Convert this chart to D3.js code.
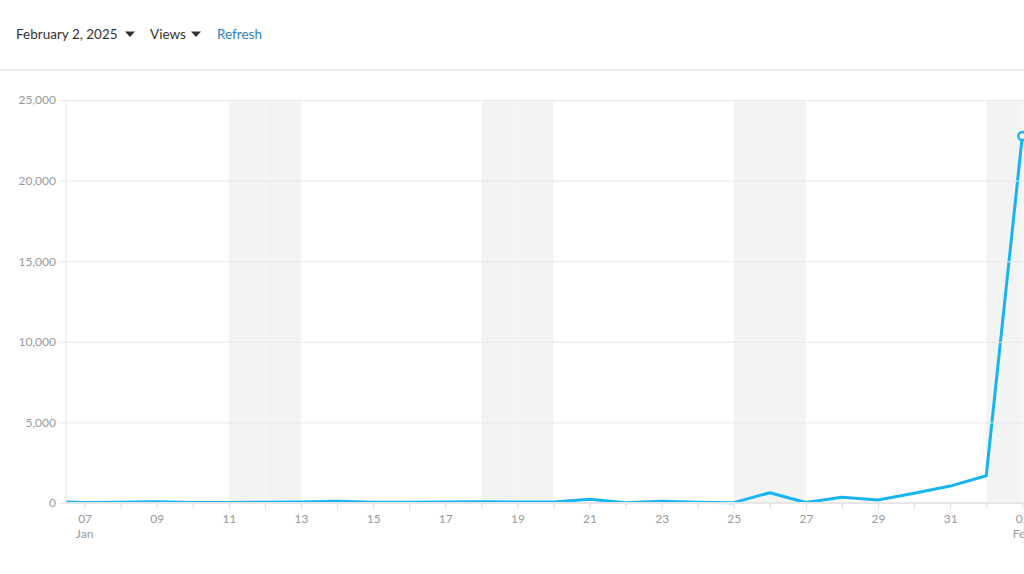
<!DOCTYPE html>
<html><head><meta charset="utf-8">
<script src="https://cdn.jsdelivr.net/npm/d3@7"></script>
<style>
html,body{margin:0;padding:0;background:#fff;overflow:hidden}
svg{display:block;font-family:Lato,"Open Sans",sans-serif}
</style></head><body>
<svg id="c" width="1024" height="574"></svg>
<script>
// Data
const dates = ["2025-01-06","2025-01-07","2025-01-08","2025-01-09","2025-01-10","2025-01-11","2025-01-12","2025-01-13","2025-01-14","2025-01-15","2025-01-16","2025-01-17","2025-01-18","2025-01-19","2025-01-20","2025-01-21","2025-01-22","2025-01-23","2025-01-24","2025-01-25","2025-01-26","2025-01-27","2025-01-28","2025-01-29","2025-01-30","2025-01-31","2025-02-01","2025-02-02"];
const views = [80,30,50,70,30,30,50,60,110,40,50,60,70,60,60,230,20,110,50,20,640,30,350,180,600,1050,1690,22760];
const yTicks = [0,5000,10000,15000,20000,25000];
const xTickLabels = ["2025-01-07","2025-01-09","2025-01-11","2025-01-13","2025-01-15","2025-01-17","2025-01-19","2025-01-21","2025-01-23","2025-01-25","2025-01-27","2025-01-29","2025-01-31","2025-02-02"];
const weekendStarts = ["2025-01-04","2025-01-11","2025-01-18","2025-01-25","2025-02-01"];
const headerItems = ["February 2, 2025","Views","Refresh"];

(function(){
const parse = d3.utcParse("%Y-%m-%d");
const data = dates.map((d,i)=>({date:parse(d), v:views[i]}));
const labelSet = new Set(xTickLabels);
const fmtKey = d3.utcFormat("%Y-%m-%d");
const svg = d3.select("#c");

// header
svg.append("text").attr("x",16).attr("y",39).attr("font-size",13.5).attr("fill","#333").text(headerItems[0]);
svg.append("path").attr("d","M125,31.5 L135,31.5 L130,37 Z").attr("fill","#333");
svg.append("text").attr("x",150).attr("y",39).attr("font-size",13.5).attr("fill","#333").text(headerItems[1]);
svg.append("path").attr("d","M191,31.5 L201,31.5 L196,37 Z").attr("fill","#333");
svg.append("text").attr("x",217).attr("y",39).attr("font-size",13.5).attr("fill","#2a7fc0").text(headerItems[2]);
svg.append("rect").attr("x",0).attr("y",69).attr("width",1024).attr("height",2).attr("fill","#ececec");

const pL = 66, pR = 1024, pT = 100, pB = 503;
const x = d3.scaleUtc().domain([parse("2025-01-07"), parse("2025-02-02")]).range([84.6, 1022.3]);
const y = d3.scaleLinear().domain([0,25000]).range([pB, pT]);

svg.append("defs").append("clipPath").attr("id","clip")
  .append("rect").attr("x",pL).attr("y",0).attr("width",pR-pL).attr("height",574);

const plot = svg.append("g").attr("clip-path","url(#clip)");
weekendStarts.forEach(s=>{
  const d0 = parse(s);
  for(let k=0;k<2;k++){
    const a = d3.utcDay.offset(d0,k), b = d3.utcDay.offset(d0,k+1);
    plot.append("rect").attr("x",x(a)+(k?0.5:0)).attr("y",pT).attr("width",x(b)-x(a)-(k?0.5:0)).attr("height",pB-pT).attr("fill","#f2f3f3");
  }
});

const yAxis = d3.axisLeft(y).tickValues(yTicks).tickSize(-(pR-pL)).tickPadding(10).tickFormat(d3.format(","));
const gy = svg.append("g").attr("transform",`translate(${pL},0)`).call(yAxis);
gy.select(".domain").remove();
gy.selectAll(".tick line").attr("stroke","#e8e8e8").attr("x1",-6);
gy.selectAll(".tick text").attr("fill","#999").attr("font-size",12).attr("font-family","Lato,sans-serif");
svg.append("line").attr("x1",pL).attr("x2",pL).attr("y1",pT).attr("y2",pB).attr("stroke","#e8e8e8");

const allDays = d3.utcDay.range(parse("2025-01-07"), parse("2025-02-03"));
const xAxis = d3.axisBottom(x).tickValues(allDays).tickSize(6).tickPadding(5)
  .tickFormat(d=> labelSet.has(fmtKey(d)) ? d3.utcFormat("%d")(d) : "");
const gx = svg.append("g").attr("transform",`translate(0,${pB})`).call(xAxis);
gx.select(".domain").remove();
gx.selectAll(".tick line").attr("stroke","#ddd");
gx.selectAll(".tick text").attr("fill","#999").attr("font-size",12).attr("font-family","Lato,sans-serif");
svg.append("line").attr("x1",pL).attr("x2",pR).attr("y1",pB).attr("y2",pB).attr("stroke","#e6e6e6").attr("stroke-width",2);
svg.append("text").attr("x",x(parse("2025-01-07"))).attr("y",538).attr("text-anchor","middle").attr("font-size",12).attr("fill","#999").text("Jan");
svg.append("text").attr("x",x(parse("2025-02-02"))).attr("y",538).attr("text-anchor","middle").attr("font-size",12).attr("fill","#999").text("Feb");

const line = d3.line().x(d=>x(d.date)).y(d=>y(d.v));
plot.append("path").datum(data).attr("d",line).attr("fill","none").attr("stroke","#17b5f0").attr("stroke-width",3).attr("stroke-linejoin","round");
const last = data[data.length-1];
svg.append("circle").attr("cx",x(last.date)).attr("cy",y(last.v)).attr("r",4).attr("fill","#fff").attr("stroke","#17b5f0").attr("stroke-width",2.5);
})();
</script>
</body></html>
